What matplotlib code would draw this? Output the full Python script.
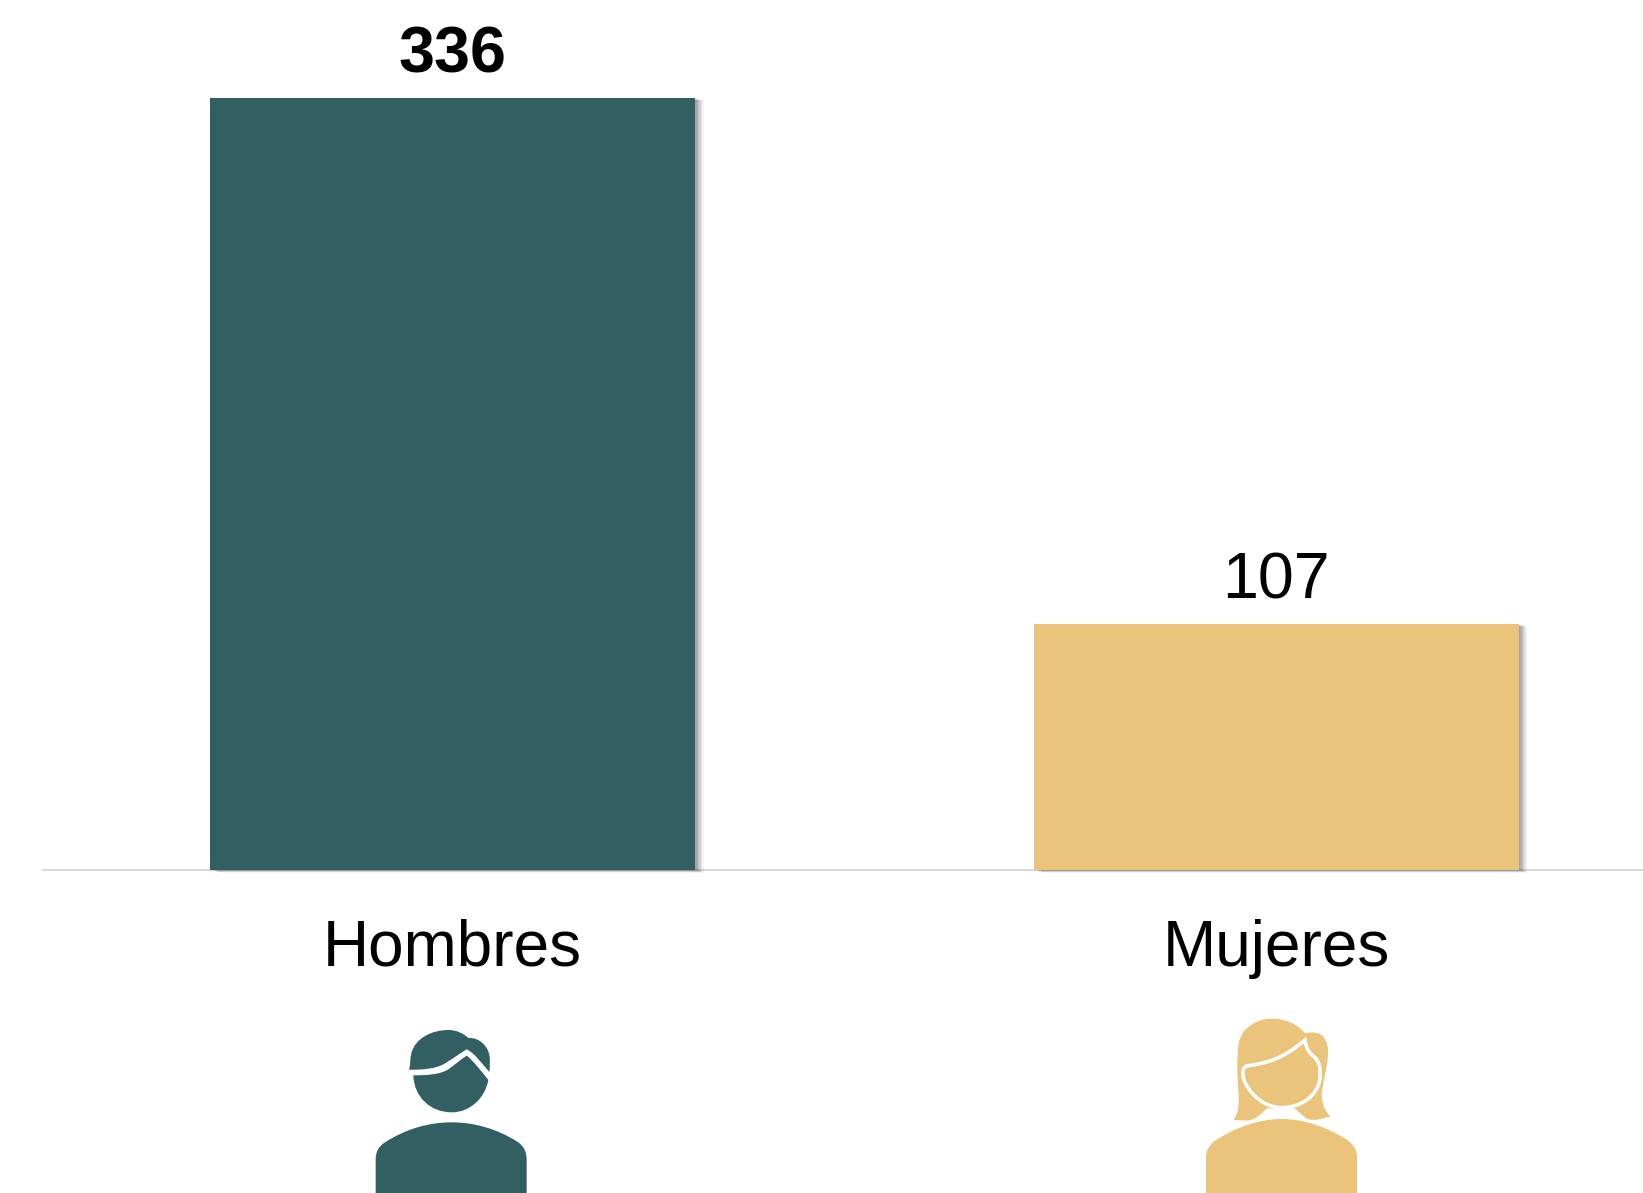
import matplotlib
matplotlib.use("Agg")
import matplotlib.pyplot as plt
import matplotlib.patheffects as pe
from matplotlib.path import Path
from matplotlib.patches import PathPatch

plt.rcParams["font.family"] = ["Liberation Sans", "DejaVu Sans"]

categorias = ["Hombres", "Mujeres"]
valores = [336, 107]
pesos = ["bold", "normal"]
colores = ["#326062", "#EAC47B"]

W, H = 1643, 1193
M, L, C = Path.MOVETO, Path.LINETO, Path.CURVE4


def trazo(partes):
    # primer punto + tramos de linea (1 punto) o curva (3 puntos)
    verts = [partes[0]]
    codes = [M]
    for p in partes[1:]:
        if len(p) == 3:
            verts += list(p)
            codes += [C, C, C]
        else:
            verts.append(p)
            codes.append(L)
    return verts, codes


def icono(ax, x0, y0, partes, **kw):
    verts, codes = trazo(partes)
    # dibujo en unidades de 1/3 de pixel
    verts = [(x0 + x / 3, y0 + y / 3) for x, y in verts]
    ax.add_patch(PathPatch(Path(verts, codes), **kw))


cuerpo_h = [
    (107, 579), (107, 480),
    ((107, 455), (115, 440), (135, 427)),
    ((200, 385), (270, 367), (335, 367)),
    ((400, 367), (470, 385), (535, 427)),
    ((552, 440), (560, 455), (560, 480)),
    (560, 579), (107, 579),
]
pelo_h = [
    (207, 209),
    ((212, 195), (209, 180), (214, 160)),
    ((225, 115), (275, 90), (325, 90)),
    ((350, 90), (370, 100), (385, 114)),
    ((420, 112), (445, 140), (449, 170)),
    ((450, 190), (450, 200), (448, 216)),
    ((425, 190), (405, 160), (380, 148)),
    ((360, 160), (340, 175), (315, 190)),
    ((290, 206), (250, 210), (207, 209)),
]
cara_h = [
    (220, 226),
    ((260, 226), (300, 224), (325, 208)),
    ((345, 194), (360, 180), (380, 167)),
    ((400, 182), (425, 215), (445, 240)),
    ((435, 295), (390, 337), (335, 337)),
    ((270, 337), (222, 290), (220, 226)),
]
pelo_m = [
    (190, 360),
    ((205, 340), (207, 320), (206, 290)),
    ((203, 240), (198, 190), (206, 130)),
    ((215, 80), (265, 56), (305, 56)),
    ((350, 56), (385, 75), (405, 100)),
    ((440, 92), (470, 100), (474, 150)),
    ((476, 190), (460, 240), (455, 280)),
    ((455, 310), (465, 335), (481, 349)),
    ((455, 358), (430, 362), (415, 358)),
    ((400, 350), (385, 335), (375, 325)),
    (290, 325),
    ((275, 340), (260, 358), (235, 361)),
    ((220, 362), (205, 361), (190, 360)),
]
cara_m = [
    (235, 197),
    ((285, 190), (335, 180), (405, 120)),
    ((408, 145), (418, 160), (432, 170)),
    ((450, 185), (452, 210), (450, 235)),
    ((445, 285), (395, 323), (335, 323)),
    ((285, 323), (240, 285), (222, 240)),
    ((215, 215), (218, 200), (235, 197)),
]
cuerpo_m = [
    (108, 579), (108, 470),
    ((108, 450), (120, 435), (135, 422)),
    ((200, 380), (270, 357), (335, 357)),
    ((400, 357), (470, 380), (535, 422)),
    ((550, 435), (561, 450), (561, 470)),
    (561, 579), (108, 579),
]

fig = plt.figure(figsize=(W / 100, H / 100), dpi=100, facecolor="white")

# el eje sigue hasta 1688 px, se corta en el borde de la figura
ax = fig.add_axes([41 / W, (H - 870) / H, (1688 - 41) / W, 870 / H])
ax.set_xlim(-0.5, 1.5)
ax.set_ylim(0, 336 * 870 / 772)

sombra = [
    pe.SimplePatchShadow(offset=(d, -d * 0.3), shadow_rgbFace="#000000", alpha=a)
    for d, a in [(6, 0.04), (5, 0.07), (4, 0.08), (3, 0.08), (2, 0.08), (1, 0.06)]
]
barras = ax.bar(categorias, valores, width=0.589, color=colores, linewidth=0, zorder=3, clip_on=False)
for b in barras:
    b.set_path_effects(sombra + [pe.Normal()])

for b, v, p in zip(barras, valores, pesos):
    ax.annotate(str(v), (b.get_x() + b.get_width() / 2, v), xytext=(0, 9),
                textcoords="offset points", ha="center", va="bottom",
                fontsize=46.5, fontweight=p, color="black")

for s in ["top", "left", "right"]:
    ax.spines[s].set_visible(False)
ax.spines["bottom"].set_color("#D9D9D9")
ax.spines["bottom"].set_linewidth(1.5)
ax.spines["bottom"].set_zorder(2)
ax.spines["bottom"].set_bounds(-0.498, 1.5)
ax.set_yticks([])
ax.tick_params(axis="x", length=0, pad=35, labelsize=46, labelcolor="black")

# capa en pixeles para los iconos
capa = fig.add_axes([0, 0, 1, 1])
capa.set_xlim(0, W)
capa.set_ylim(H, 0)
capa.axis("off")
capa.patch.set_alpha(0)

icono(capa, 340, 1000, cuerpo_h, facecolor=colores[0], linewidth=0)
icono(capa, 340, 1000, pelo_h, facecolor=colores[0], linewidth=0)
icono(capa, 340, 1000, cara_h, facecolor=colores[0], linewidth=0)
icono(capa, 1170, 1000, pelo_m, facecolor=colores[1], linewidth=0)
icono(capa, 1170, 1000, cara_m, facecolor=colores[1], edgecolor="white", linewidth=2.6)
icono(capa, 1170, 1000, cuerpo_m, facecolor=colores[1], linewidth=0)

fig.savefig("out.png", dpi=100)
